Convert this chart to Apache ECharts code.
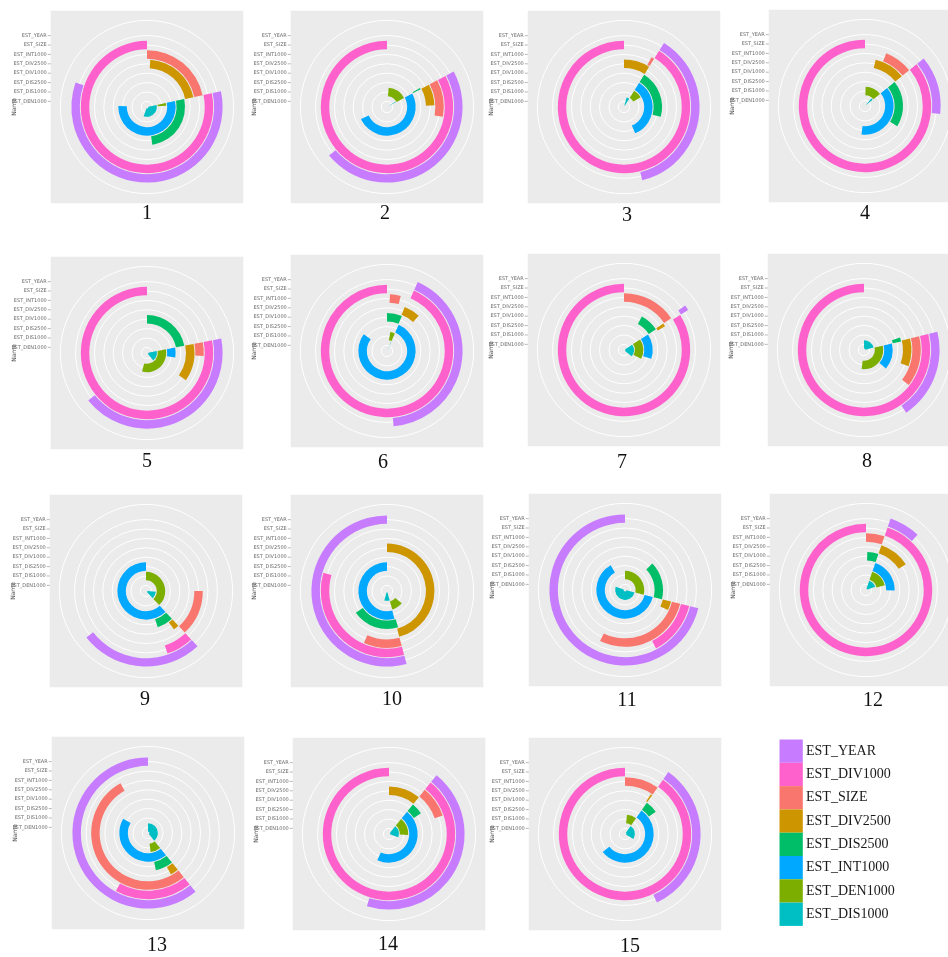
<!DOCTYPE html>
<html><head><meta charset="utf-8">
<script src="https://cdn.jsdelivr.net/npm/echarts@6/dist/echarts.min.js"></script>
<style>html,body{margin:0;padding:0;background:#fff}#c{width:948px;height:957px}</style>
</head><body><div id="c"></div>
<script>
// ---- data ----
// fill variables, legend order = outer ring -> inner ring
const variables = ['EST_YEAR','EST_DIV1000','EST_SIZE','EST_DIV2500','EST_DIS2500','EST_INT1000','EST_DEN1000','EST_DIS1000'];
const colors = ['#C77CFF','#FF61CC','#F8766D','#CD9600','#00BE67','#00A9FF','#7CAE00','#00BFC4'];
// radial axis tick labels (top = outer ring)
const ringAxisLabels = ['EST_YEAR','EST_SIZE','EST_INT1000','EST_DIV2500','EST_DIV1000','EST_DIS2500','EST_DIS1000','EST_DEN1000'];
const axisTitle = 'Name';
const panelTitles = ['1','2','3','4','5','6','7','8','9','10','11','12','13','14','15'];
// bar start / end on the theta scale (0..360 = full turn), one entry per panel 1..15
const yearStart    = [78,62,32,51,79,24,54,76,137,165,104,19,141,39,35];
const yearEnd      = [289,230,166,96,231,175,58,146,232,360,360,43,360,197,155];
const div1000Start = [78,62,32,51,79,24,58,76,137,165,104,19,141,39,35];
const div1000End   = [360,360,360,360,360,360,360,360,161,286,152,360,209,360,360];
const sizeStart    = [0,62,29,22,79,3,0,76,90,165,104,0,141,39,0];
const sizeEnd      = [78,100,32,51,93,14,56,128,137,204,206,19,331,71,35];
const div2500Start = [4,62,0,13,79,22,56,76,137,0,104,19,141,0,33];
const div2500End   = [78,88,32,51,125,42,60,110,144,165,115,57,151,39,35];
const dis2500Start = [78,60,32,51,0,0,28,71,137,163,46,2,141,39,35];
const dis2500End   = [172,62,105,122,79,23,57,77,162,235,104,19,168,57,54];
const int1000Start = [78,62,32,51,79,24,57,77,137,165,104,19,141,39,35];
const int1000End   = [272,245,157,187,99,306,108,130,360,360,330,91,300,204,231];
const den1000Start = [78,5,32,2,79,10,57,77,0,130,0,19,141,39,6];
const den1000End   = [86,62,60,51,195,24,117,187,137,164,104,76,172,93,35];
const dis1000Start = [78,58,15,40,79,23,57,0,95,164,104,19,0,39,35];
const dis1000End   = [200,62,32,51,140,25,130,76,137,196,290,70,141,110,120];

const starts = [yearStart,div1000Start,sizeStart,div2500Start,dis2500Start,int1000Start,den1000Start,dis1000Start];
const ends   = [yearEnd,div1000End,sizeEnd,div2500End,dis2500End,int1000End,den1000End,dis1000End];

// ---- layout ----
const centers = [[147,107],[387,107],[624,107],[865,106],[147,353],[387,351],[624,350],[864,350],
                 [146,591],[387,591],[625,590],[866,590],[148,833],[389,834],[625,834]];
const titlePos = [[147,214],[385,214],[627,216],[865,214],[147,462],[383,463],[622,463],[867,462],
                  [145,700],[392,700],[627,701],[873,701],[157,946],[388,945],[630,947]];
const Rg = 77;            // radius of the r-scale (ggplot 0.4)
const band = Rg / 8.2;    // one discrete step

const chart = echarts.init(document.getElementById('c'));
const polar = [], angleAxis = [], radiusAxis = [], series = [], graphic = [];
const ringIdx = [7,6,5,4,3,2,1,0]; // inner -> outer, index into variables
const cats = ringIdx.map(i => variables[i]);

for (let p = 0; p < 15; p++) {
  const [cx, cy] = centers[p];
  const half = Rg / 0.8;
  graphic.push({type:'rect', z:-100, silent:true, shape:{x:cx-half, y:cy-half, width:2*half, height:2*half}, style:{fill:'#EBEBEB'}});
  // outer reference circle (0.45)
  const pa = polar.length;
  polar.push({center:[cx,cy], radius:[0, Rg*0.45/0.4]});
  angleAxis.push({polarIndex:pa, type:'value', min:0, max:360, startAngle:90, clockwise:true,
    axisLine:{show:true, lineStyle:{color:'#FFFFFF', width:1}}, axisTick:{show:false}, axisLabel:{show:false}, splitLine:{show:false}});
  radiusAxis.push({polarIndex:pa, type:'value', min:0, max:1, axisLine:{show:false}, axisTick:{show:false}, axisLabel:{show:false}, splitLine:{show:false}});
  // bars polar
  const pb = polar.length;
  polar.push({center:[cx,cy], radius:[0.6*band, 7.6*band]});
  angleAxis.push({polarIndex:pb, type:'value', min:0, max:360, startAngle:90, clockwise:true,
    axisLine:{show:false}, axisTick:{show:false}, axisLabel:{show:false}, splitLine:{show:false}});
  radiusAxis.push({polarIndex:pb, type:'category', data:cats, boundaryGap:false,
    axisLine:{show:false}, axisTick:{show:false, interval:0}, axisLabel:{show:false, interval:0},
    splitLine:{show:true, interval:0, lineStyle:{color:'#FFFFFF', width:1}}});
  series.push({type:'bar', coordinateSystem:'polar', polarIndex:pb, stack:'s'+p, barWidth:'90%', clip:false, silent:true,
    itemStyle:{color:'rgba(0,0,0,0)'}, data: ringIdx.map(i => starts[i][p])});
  series.push({type:'bar', coordinateSystem:'polar', polarIndex:pb, stack:'s'+p, barWidth:'90%', clip:false, silent:true,
    data: ringIdx.map(i => ({value: ends[i][p] - starts[i][p], itemStyle:{color: colors[i]}}))});
  // radial axis labels at left of panel
  const left = cx - half;
  ringAxisLabels.forEach((t, j) => {
    const k = 8 - j; // level
    const y = cy - (k - 0.4) * band;
    graphic.push({type:'text', silent:true, x:left-4, y:y, style:{text:t, fontSize:5, fontFamily:'DejaVu Sans', fill:'#6b6b6b', align:'right', verticalAlign:'middle'}});
    graphic.push({type:'line', silent:true, shape:{x1:left-3, y1:y, x2:left, y2:y}, style:{stroke:'#8a8a8a', lineWidth:0.6}});
  });
  graphic.push({type:'text', silent:true, x:left-36, y:cy, rotation:Math.PI/2, style:{text:axisTitle, fontSize:6, fontFamily:'DejaVu Sans', fill:'#555', align:'center', verticalAlign:'middle'}});
  graphic.push({type:'text', silent:true, x:titlePos[p][0], y:titlePos[p][1], style:{text:panelTitles[p], fontSize:20, fontFamily:'Liberation Serif', fill:'#111', align:'center', verticalAlign:'middle'}});
}
// legend
variables.forEach((v, i) => {
  const y0 = 739.5 + i * 23.3;
  graphic.push({type:'rect', silent:true, shape:{x:779.5, y:y0, width:23.3, height:23.3}, style:{fill:colors[i]}});
  graphic.push({type:'text', silent:true, x:806, y:y0 + 11.6, style:{text:v, fontSize:14, fontFamily:'Liberation Serif', fill:'#1a1a1a', align:'left', verticalAlign:'middle'}});
});

chart.setOption({animation:false, backgroundColor:'#FFFFFF', polar, angleAxis, radiusAxis, series, graphic});
</script></body></html>
